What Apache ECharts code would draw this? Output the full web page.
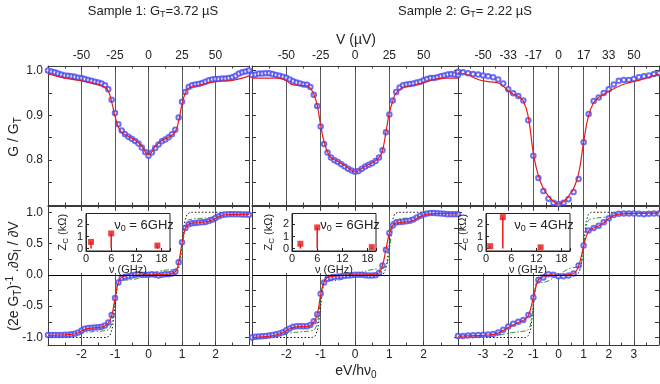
<!DOCTYPE html>
<html>
<head>
<meta charset="utf-8">
<script src="https://cdn.jsdelivr.net/npm/echarts@6/dist/echarts.min.js"></script>
<style>
html,body{margin:0;padding:0;background:#fff}
#chart{width:660px;height:384px}
</style>
</head>
<body>
<div id="chart"></div>
<script>
// bias in units of eV/hv0
const xsA = [-3,-2.9,-2.8,-2.7,-2.6,-2.5,-2.4,-2.3,-2.2,-2.1,-2,-1.9,-1.8,-1.7,-1.6,-1.5,-1.4,-1.3,-1.2,-1.1,-1,-0.9,-0.8,-0.7,-0.6,-0.5,-0.4,-0.3,-0.2,-0.1,0,0.1,0.2,0.3,0.4,0.5,0.6,0.7,0.8,0.9,1,1.1,1.2,1.3,1.4,1.5,1.6,1.7,1.8,1.9,2,2.1,2.2,2.3,2.4,2.5,2.6,2.7,2.8,2.9,3];
const xsB = [-4,-3.8,-3.6,-3.4,-3.2,-3,-2.8,-2.6,-2.4,-2.2,-2,-1.8,-1.6,-1.4,-1.2,-1,-0.8,-0.6,-0.4,-0.2,0,0.2,0.4,0.6,0.8,1,1.2,1.4,1.6,1.8,2,2.2,2.4,2.6,2.8,3,3.2,3.4,3.6,3.8,4];

// G / G_T, measured
const g1Top = [1.000,0.998,0.996,0.993,0.991,0.989,0.988,0.987,0.986,0.984,
  0.983,0.981,0.979,0.977,0.975,0.973,0.971,0.967,0.958,0.935,
  0.905,0.880,0.866,0.858,0.852,0.848,0.843,0.837,0.828,0.818,
  0.810,
  0.817,0.827,0.835,0.842,0.846,0.851,0.858,0.868,0.895,0.930,
  0.952,0.963,0.967,0.969,0.970,0.972,0.975,0.978,0.980,0.981,
  0.981,0.982,0.982,0.983,0.985,0.988,0.993,0.996,0.998,1.000];
const g2Top = [0.990,0.991,0.993,0.993,0.994,0.994,0.992,0.990,0.988,0.986,
  0.984,0.980,0.976,0.973,0.971,0.969,0.968,0.963,0.946,0.921,
  0.875,0.836,0.817,0.806,0.800,0.796,0.791,0.786,0.781,0.777,
  0.774,
  0.776,0.781,0.786,0.790,0.793,0.798,0.806,0.822,0.862,0.902,
  0.933,0.952,0.962,0.967,0.969,0.970,0.971,0.973,0.975,0.978,
  0.981,0.983,0.983,0.985,0.987,0.989,0.991,0.992,0.991,0.990];
const g3Top = [0.997,0.996,0.994,0.992,0.991,0.989,0.987,0.985,0.980,0.971,
  0.958,0.949,0.943,0.933,0.889,0.810,0.760,0.731,0.714,0.705,
  0.702,
  0.705,0.713,0.729,0.758,0.840,0.903,0.932,0.940,0.950,0.958,
  0.969,0.977,0.979,0.979,0.981,0.985,0.987,0.989,0.992,0.994];

// G / G_T, theory
const fit1Top = [[-3,0.993],[-2.5,0.983],[-2,0.977],[-1.5,0.969],[-1.3,0.963],[-1.2,0.954],[-1.1,0.93],[-1,0.898],[-0.9,0.874],[-0.8,0.862],[-0.6,0.853],[-0.4,0.845],[-0.2,0.831],[0,0.812],[0.2,0.83],[0.4,0.844],[0.6,0.851],[0.8,0.864],[0.9,0.888],[1,0.925],[1.1,0.95],[1.2,0.961],[1.5,0.967],[2,0.975],[2.5,0.978],[2.8,0.983],[3,0.988]];
const fit2Top = [[-3,0.983],[-2.2,0.983],[-2,0.977],[-1.8,0.968],[-1.4,0.966],[-1.3,0.96],[-1.2,0.947],[-1.1,0.922],[-1,0.878],[-0.9,0.84],[-0.8,0.818],[-0.7,0.806],[-0.5,0.797],[-0.3,0.788],[-0.15,0.78],[0,0.774],[0.15,0.779],[0.3,0.787],[0.5,0.794],[0.7,0.806],[0.8,0.822],[0.9,0.862],[1,0.905],[1.1,0.932],[1.2,0.95],[1.4,0.962],[1.7,0.967],[2,0.973],[2.3,0.98],[2.6,0.983],[3,0.983]];
const fit3Top = [[-4,0.995],[-3.6,0.99],[-3.2,0.98],[-2.8,0.975],[-2.4,0.972],[-2.2,0.965],[-2,0.955],[-1.8,0.947],[-1.6,0.942],[-1.4,0.932],[-1.2,0.895],[-1,0.815],[-0.8,0.765],[-0.6,0.737],[-0.4,0.72],[-0.2,0.708],[0,0.702],[0.2,0.708],[0.4,0.72],[0.6,0.737],[0.8,0.77],[1,0.84],[1.2,0.9],[1.4,0.928],[1.6,0.94],[2,0.953],[2.4,0.965],[2.8,0.973],[3.2,0.978],[3.6,0.985],[4,0.992]];

// (2eG_T)^-1 dS/dV, measured
const s1Bot = [-0.96,-0.96,-0.96,-0.96,-0.96,-0.955,-0.955,-0.95,-0.94,-0.92,
  -0.89,-0.86,-0.85,-0.845,-0.84,-0.835,-0.83,-0.81,-0.76,-0.64,
  -0.37,-0.12,-0.05,-0.03,-0.02,-0.01,0.0,0.01,0.0,0.0,
  0.0,
  0.01,0.0,-0.01,0.0,0.01,0.01,0.02,0.05,0.2,0.52,
  0.75,0.81,0.825,0.83,0.835,0.84,0.845,0.86,0.88,0.91,
  0.935,0.955,0.965,0.97,0.97,0.97,0.97,0.965,0.965,0.96];
const s2Bot = [-1.0,-0.99,-0.985,-0.98,-0.975,-0.97,-0.96,-0.95,-0.935,-0.915,
  -0.885,-0.855,-0.83,-0.82,-0.82,-0.82,-0.82,-0.80,-0.74,-0.63,
  -0.30,-0.12,-0.06,-0.045,-0.035,-0.025,-0.02,-0.015,-0.01,-0.005,
  0.0,
  0.0,0.0,-0.005,-0.01,-0.01,-0.005,0.03,0.15,0.40,0.67,
  0.79,0.835,0.845,0.85,0.855,0.865,0.885,0.915,0.945,0.965,
  0.98,0.99,0.99,0.985,0.98,0.975,0.97,0.97,0.97,0.97];
const s3Bot = [-0.976,-0.975,-0.97,-0.965,-0.96,-0.958,-0.953,-0.945,-0.92,-0.875,
  -0.825,-0.78,-0.75,-0.72,-0.64,-0.36,-0.08,-0.04,0.01,0.0,
  -0.02,
  -0.02,-0.01,0.02,0.15,0.47,0.71,0.75,0.785,0.84,0.905,
  0.955,0.975,0.98,0.98,0.98,0.975,0.97,0.975,0.98,0.98];

// theory with environment (red)
const fit1Bot = [[-3,-0.965],[-2.6,-0.96],[-2.3,-0.95],[-2.1,-0.925],[-1.9,-0.87],[-1.7,-0.85],[-1.4,-0.835],[-1.3,-0.815],[-1.2,-0.77],[-1.1,-0.65],[-1,-0.38],[-0.9,-0.12],[-0.8,-0.04],[-0.6,-0.01],[0,0],[0.6,0.01],[0.8,0.05],[0.9,0.2],[1,0.5],[1.1,0.74],[1.2,0.81],[1.4,0.83],[1.7,0.845],[1.9,0.875],[2.1,0.93],[2.3,0.96],[2.6,0.965],[3,0.965]];
const fit2Bot = [[-3,-1.0],[-2.6,-0.985],[-2.3,-0.96],[-2.1,-0.92],[-1.9,-0.86],[-1.7,-0.83],[-1.4,-0.825],[-1.3,-0.81],[-1.2,-0.75],[-1.1,-0.63],[-1,-0.32],[-0.9,-0.11],[-0.8,-0.04],[-0.6,-0.02],[0,0],[0.6,0.0],[0.7,0.03],[0.8,0.15],[0.9,0.4],[1,0.66],[1.1,0.79],[1.2,0.83],[1.5,0.845],[1.7,0.87],[1.9,0.93],[2.1,0.97],[2.4,0.98],[3,0.975]];
const fit3Bot = [[-4,-0.98],[-3.2,-0.97],[-2.8,-0.96],[-2.4,-0.93],[-2,-0.84],[-1.6,-0.76],[-1.4,-0.73],[-1.2,-0.65],[-1,-0.36],[-0.8,-0.08],[-0.6,-0.03],[-0.3,0.0],[0,-0.01],[0.4,0.0],[0.6,0.02],[0.8,0.14],[1,0.46],[1.2,0.7],[1.4,0.75],[1.6,0.78],[1.8,0.83],[2,0.9],[2.2,0.95],[2.5,0.975],[3,0.98],[4,0.985]];

// other models (green dash-dot, black dotted)
const green1 = [[-3,-0.985],[-2.4,-0.975],[-2.1,-0.95],[-1.9,-0.92],[-1.6,-0.905],[-1.3,-0.89],[-1.15,-0.85],[-1.05,-0.6],[-0.98,-0.3],[-0.9,-0.13],[-0.8,-0.09],[-0.5,-0.075],[-0.2,-0.04],[0,0],[0.2,0.04],[0.5,0.075],[0.8,0.09],[0.9,0.13],[0.98,0.3],[1.05,0.6],[1.15,0.85],[1.3,0.89],[1.6,0.905],[1.9,0.92],[2.1,0.95],[2.4,0.975],[3,0.985]];
const green2 = [[-3,-0.99],[-2.4,-0.985],[-2.1,-0.96],[-1.9,-0.93],[-1.6,-0.91],[-1.3,-0.895],[-1.15,-0.85],[-1.05,-0.6],[-0.98,-0.3],[-0.9,-0.14],[-0.8,-0.1],[-0.5,-0.085],[-0.2,-0.04],[0,0],[0.2,0.04],[0.5,0.085],[0.8,0.1],[0.9,0.14],[0.98,0.3],[1.05,0.6],[1.15,0.85],[1.3,0.895],[1.6,0.91],[1.9,0.93],[2.1,0.96],[2.4,0.985],[3,0.99]];
const green3 = [[-4,-0.99],[-3,-0.985],[-2.5,-0.97],[-2.1,-0.94],[-1.8,-0.92],[-1.4,-0.9],[-1.2,-0.87],[-1.08,-0.7],[-1,-0.45],[-0.92,-0.2],[-0.8,-0.13],[-0.5,-0.11],[-0.2,-0.05],[0,0],[0.2,0.05],[0.5,0.11],[0.8,0.13],[0.92,0.2],[1,0.45],[1.08,0.7],[1.2,0.87],[1.4,0.9],[1.8,0.92],[2.1,0.94],[2.5,0.97],[3,0.985],[4,0.99]];
const step1 = [[-3,-1],[-1.25,-1],[-1.15,-0.97],[-1.08,-0.85],[-1.02,-0.6],[-1,-0.5],[-0.98,-0.4],[-0.92,-0.15],[-0.85,-0.03],[-0.75,0],[0.75,0],[0.85,0.03],[0.92,0.15],[0.98,0.4],[1,0.5],[1.02,0.6],[1.08,0.85],[1.15,0.97],[1.25,1],[3,1]];
const step2 = [[-3,-1],[-1.25,-1],[-1.15,-0.97],[-1.08,-0.85],[-1.02,-0.6],[-1,-0.5],[-0.98,-0.4],[-0.92,-0.15],[-0.85,-0.03],[-0.75,0],[0.75,0],[0.85,0.03],[0.92,0.15],[0.98,0.4],[1,0.5],[1.02,0.6],[1.08,0.85],[1.15,0.97],[1.25,1],[3,1]];
const step3 = [[-4,-1],[-1.3,-1],[-1.18,-0.96],[-1.1,-0.85],[-1.03,-0.6],[-1,-0.5],[-0.97,-0.4],[-0.9,-0.15],[-0.82,-0.04],[-0.7,0],[0.7,0],[0.82,0.04],[0.9,0.15],[0.97,0.4],[1,0.5],[1.03,0.6],[1.1,0.85],[1.18,0.96],[1.3,1],[4,1]];

// inset: environment impedance Zc (kOhm) vs frequency (GHz)
const zc1 = [[1.2,0.55],[6,1.25],[17,0.25]];
const zc2 = [[2,0.4],[6,1.75],[19,0.12]];
const zc3 = [[1,0.2],[4,2.6],[13,0.1]];

// tick labels
const topValsA = [-2,-1,0,1,2];
const topLabelsA = ['-50','-25','0','25','50'];
const topValsB = [-3,-2,-1,0,1,2,3];
const topLabelsB = ['-50','-33','-17','0','17','33','50'];
const botValsA = ['-2','-1','0','1','2'];
const botValsB = ['-3','-2','-1','0','1','2','3'];
const gLabels = [0.8,0.9,1.0];
const gTicks = [0.75,0.8,0.85,0.9,0.95,1.0];
const sLabels = [-1,-0.5,0,0.5,1];
const sTicks = [-1,-0.75,-0.5,-0.25,0,0.25,0.5,0.75,1];
const nuLabels = ['6GHz','6GHz','4GHz'];

const FONT = 'Liberation Sans';
const cols = [
  {left: 48, width: 201, range: 3, xs: xsA, gTop: g1Top, fitTop: fit1Top, sBot: s1Bot, fitBot: fit1Bot, green: green1, step: step1, zc: zc1, topVals: topValsA, topLabels: topLabelsA, botVals: botValsA, inset: 86},
  {left: 252, width: 206, range: 3, xs: xsA, gTop: g2Top, fitTop: fit2Top, sBot: s2Bot, fitBot: fit2Bot, green: green2, step: step2, zc: zc2, topVals: topValsA, topLabels: topLabelsA, botVals: botValsA, inset: 292},
  {left: 458, width: 201, range: 4, xs: xsB, gTop: g3Top, fitTop: fit3Top, sBot: s3Bot, fitBot: fit3Bot, green: green3, step: step3, zc: zc3, topVals: topValsB, topLabels: topLabelsB, botVals: botValsB, inset: 486}
];
const rows = [
  {top: 66, height: 139, min: 0.7, max: 1.01, labels: gLabels, ticks: gTicks},
  {top: 206, height: 139, min: -1.12, max: 1.1, labels: sLabels, ticks: sTicks}
];

const frame = {show: true, onZero: false, lineStyle: {color: '#3a3a3a', width: 1}};
const tick = {show: true, inside: true, length: 4, lineStyle: {color: '#3a3a3a', width: 1}};
const minor = {show: true, splitNumber: 2, length: 2.5, lineStyle: {color: '#3a3a3a', width: 1}};
const lab = {fontFamily: FONT, fontSize: 12, color: '#222', showMinLabel: false, showMaxLabel: false, hideOverlap: false};
const dot = {type: 'scatter', symbol: 'emptyCircle', symbolSize: 4.5,
  itemStyle: {color: '#4848f4', borderWidth: 0.9}, z: 2};

const grids = [], xAxes = [], yAxes = [], series = [], graphics = [];

cols.forEach((c, ci) => {
  rows.forEach((r, ri) => {
    grids.push({left: c.left, top: r.top, width: c.width, height: r.height});
    const g = grids.length - 1;
    const xi = xAxes.length;
    xAxes.push({
      gridIndex: g, type: 'value', position: 'bottom', min: -c.range, max: c.range, interval: 1,
      axisLine: frame, axisTick: tick, minorTick: minor,
      axisLabel: ri === 1 ? Object.assign({margin: 4, interval: 0,
        formatter: v => c.botVals.includes(String(Math.round(v))) ? String(Math.round(v)) : ''}, lab) : {show: false},
      splitLine: {show: true, lineStyle: {color: '#5a5a5a', width: 1}}
    });
    xAxes.push({
      gridIndex: g, type: 'value', position: 'top', min: -c.range, max: c.range, interval: 1,
      axisLine: frame, axisTick: tick, minorTick: minor,
      axisLabel: ri === 0 ? Object.assign({margin: 4, interval: 0,
        formatter: v => { const k = c.topVals.indexOf(Math.round(v)); return k < 0 ? '' : c.topLabels[k]; }}, lab) : {show: false},
      splitLine: {show: false}
    });
    const yi = yAxes.length;
    yAxes.push({
      gridIndex: g, type: 'value', position: 'left', min: r.min, max: r.max,
      axisLine: frame, axisTick: Object.assign({customValues: r.ticks}, tick),
      axisLabel: ci === 0 ? {customValues: r.labels, margin: 5, formatter: v => v.toFixed(1), fontFamily: FONT, fontSize: 12, color: '#222'} : {show: false},
      splitLine: {show: false}
    });
    yAxes.push({
      gridIndex: g, type: 'value', position: 'right', min: r.min, max: r.max,
      axisLine: frame, axisTick: Object.assign({customValues: r.ticks}, tick),
      axisLabel: {show: false}, splitLine: {show: false}
    });
    if (ri === 0) {
      series.push(Object.assign({xAxisIndex: xi, yAxisIndex: yi, data: c.xs.map((x, i) => [x, c.gTop[i]])}, dot));
      series.push({type: 'line', xAxisIndex: xi, yAxisIndex: yi, showSymbol: false, smooth: true,
        lineStyle: {color: '#ea1a1a', width: 1.2}, data: c.fitTop, z: 3});
    } else {
      series.push({type: 'line', xAxisIndex: xi, yAxisIndex: yi, showSymbol: false,
        lineStyle: {color: '#111', width: 1, type: [1.5, 2]}, data: c.step, z: 2,
        markLine: {silent: true, symbol: 'none', label: {show: false},
          lineStyle: {color: '#000', width: 1, type: 'solid'}, data: [{yAxis: 0}]}});
      series.push({type: 'line', xAxisIndex: xi, yAxisIndex: yi, showSymbol: false, smooth: true,
        lineStyle: {color: '#2a8a2a', width: 1, type: [5, 2, 1.5, 2]}, data: c.green, z: 2});
      series.push(Object.assign({xAxisIndex: xi, yAxisIndex: yi, data: c.xs.map((x, i) => [x, c.sBot[i]])}, dot));
      series.push({type: 'line', xAxisIndex: xi, yAxisIndex: yi, showSymbol: false, smooth: true,
        lineStyle: {color: '#ea1a1a', width: 1.2}, data: c.fitBot, z: 3});
    }
  });
});

// insets
cols.forEach((c, ci) => {
  grids.push({left: c.inset, top: 213.5, width: 84, height: 37.5, z: 5,
    show: true, borderColor: '#222', borderWidth: 1, backgroundColor: 'transparent'});
  const g = grids.length - 1;
  const xi = xAxes.length, yi = yAxes.length;
  xAxes.push({gridIndex: g, type: 'value', min: 0, max: 20, interval: 6, z: 5,
    axisLine: {show: true, onZero: false, lineStyle: {color: '#222'}},
    axisTick: {show: true, inside: true, length: 3, lineStyle: {color: '#222'}},
    axisLabel: {fontFamily: FONT, fontSize: 11, color: '#222', margin: 2, customValues: [0, 6, 12, 18], formatter: v => String(v)},
    splitLine: {show: false},
    name: 'ν (GHz)', nameLocation: 'middle', nameGap: 9,
    nameTextStyle: {fontFamily: FONT, fontSize: 11, color: '#222', verticalAlign: 'top'}});
  yAxes.push({gridIndex: g, type: 'value', min: -0.2, max: 2.9, z: 5,
    axisLine: {show: true, onZero: false, lineStyle: {color: '#222'}},
    axisTick: {show: true, inside: true, length: 3, customValues: [0, 1, 2], lineStyle: {color: '#222'}},
    axisLabel: {fontFamily: FONT, fontSize: 11, color: '#222', margin: 3, customValues: [0, 1, 2], formatter: v => String(v)},
    splitLine: {show: false},
    name: '{a|Z}{s|C}{a| (kΩ)}', nameLocation: 'middle', nameGap: 16, nameRotate: 90,
    nameTextStyle: {fontFamily: FONT, fontSize: 11, color: '#222',
      rich: {a: {fontFamily: FONT, fontSize: 11, color: '#222'}, s: {fontFamily: FONT, fontSize: 8, color: '#222', padding: [6, 0, 0, 0]}}}});
  series.push({type: 'bar', xAxisIndex: xi, yAxisIndex: yi, barWidth: 1.5, itemStyle: {color: '#e81616'},
    data: c.zc, z: 6});
  series.push({type: 'scatter', xAxisIndex: xi, yAxisIndex: yi, symbol: 'rect', symbolSize: 6,
    itemStyle: {color: '#e81616'}, data: c.zc, z: 7});
  // white patch behind inset (hides grid lines)
  graphics.push({type: 'rect', z: 1, silent: true,
    shape: {x: c.left + 4, y: 211, width: c.inset + 86 - c.left - 4, height: 62}, style: {fill: '#fff'}});
  graphics.push({type: 'text', z: 8, x: c.inset + 58, y: 225,
    style: {text: '{a|ν}{s|0}{a| = ' + nuLabels[ci] + '}', align: 'center', verticalAlign: 'middle',
      rich: {a: {fontFamily: FONT, fontSize: 13, fill: '#222'}, s: {fontFamily: FONT, fontSize: 9, fill: '#222', padding: [8, 0, 0, 0]}}}});
});

const rich13 = {a: {fontFamily: FONT, fontSize: 13, fill: '#222'}, s: {fontFamily: FONT, fontSize: 9, fill: '#222', padding: [8, 0, 0, 0]}};
const rich14 = {a: {fontFamily: FONT, fontSize: 14, fill: '#222'}, s: {fontFamily: FONT, fontSize: 10, fill: '#222', padding: [9, 0, 0, 0]},
  u: {fontFamily: FONT, fontSize: 10, fill: '#222', padding: [0, 0, 8, 0]}};
graphics.push({type: 'text', x: 153, y: 11, style: {text: '{a|Sample 1: G}{s|T}{a|=3.72 µS}', align: 'center', verticalAlign: 'middle', rich: rich13}});
graphics.push({type: 'text', x: 465, y: 11, style: {text: '{a|Sample 2: G}{s|T}{a|= 2.22 µS}', align: 'center', verticalAlign: 'middle', rich: rich13}});
graphics.push({type: 'text', x: 356, y: 40, style: {text: '{a|V (µV)}', align: 'center', verticalAlign: 'middle', rich: rich14}});
graphics.push({type: 'text', x: 356, y: 371, style: {text: '{a|eV/hν}{s|0}', align: 'center', verticalAlign: 'middle', rich: rich14}});
graphics.push({type: 'text', x: 14, y: 137, rotation: Math.PI / 2, style: {text: '{a|G / G}{s|T}', align: 'center', verticalAlign: 'middle', rich: rich14}});
graphics.push({type: 'text', x: 14, y: 276, rotation: Math.PI / 2, style: {text: '{a|(2e G}{s|T}{a|)}{u|-1}{a| .∂S}{s|I}{a| / ∂V}', align: 'center', verticalAlign: 'middle', rich: rich14}});

const chart = echarts.init(document.getElementById('chart'));
chart.setOption({
  animation: false,
  backgroundColor: '#fff',
  grid: grids,
  xAxis: xAxes,
  yAxis: yAxes,
  series: series,
  graphic: {elements: graphics}
});
</script>
</body>
</html>
